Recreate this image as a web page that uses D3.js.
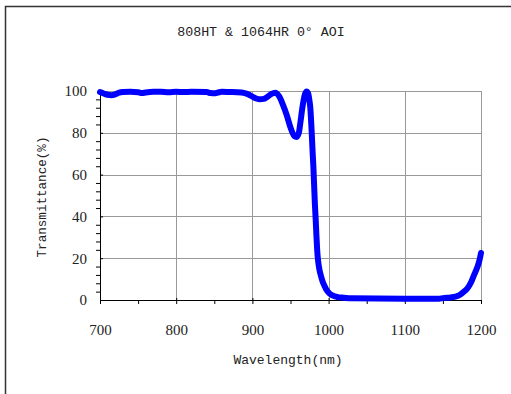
<!DOCTYPE html>
<html>
<head>
<meta charset="utf-8">
<script src="https://cdn.jsdelivr.net/npm/d3@7"></script>
<style>
  html, body { margin: 0; padding: 0; background: #fff; }
  svg { display: block; }
</style>
</head>
<body>
<svg id="chart" width="511" height="394"></svg>
<script>
var wavelength = [700, 705, 710, 715, 720, 725, 730, 740, 750, 755, 760, 770, 780, 790, 800,
    810, 820, 840, 845, 850, 855, 860, 870, 880, 890, 895, 900, 905, 910, 915, 920, 925, 930,
    935, 940, 945, 950, 955, 958, 961, 963, 966, 969, 971, 973, 975, 976, 977, 978, 979, 980,
    981, 982, 983, 984, 985, 986, 988, 990, 992, 995, 997, 1001, 1005, 1012, 1020, 1030,
    1100, 1145, 1150, 1160, 1170, 1176, 1182, 1187, 1191, 1195, 1198, 1200];
var transmittance = [99.5, 98.8, 98.2, 98.0, 98.4, 99.2, 99.5, 99.6, 99.4, 99.0, 99.3, 99.6, 99.6, 99.4, 99.6,
    99.5, 99.6, 99.5, 99.0, 98.9, 99.3, 99.6, 99.5, 99.4, 99.0, 98.3, 97.3, 96.4, 96.0, 96.2, 97.3, 98.6, 99.2,
    97.5, 93.5, 88.5, 82.5, 78.5, 78.0, 80, 85, 93, 98.5, 99.8, 99, 95, 92, 86, 79, 71, 64,
    55, 46, 39, 31, 24, 19.5, 14.5, 11.5, 9, 6.5, 5, 3.2, 2.2, 1.4, 1.1, 0.8,
    0.6, 0.6, 0.9, 1.2, 2.0, 3.5, 5.5, 8.5, 12, 15.5, 19, 22.5];
var xTicks = [700, 800, 900, 1000, 1100, 1200];
var yTicks = [0, 20, 40, 60, 80, 100];

var title = '808HT & 1064HR 0\u00b0 AOI',
    xLabel = 'Wavelength(nm)',
    yLabel = 'Transmittance(%)';

var margin = {top: 91, right: 30, bottom: 94, left: 100},
    width = 511 - margin.left - margin.right,
    height = 394 - margin.top - margin.bottom;

var svg = d3.select('#chart');

// outer chart frame, runs off the right and bottom edges
svg.append('rect')
    .attr('x', 5.5).attr('y', 6.5)
    .attr('width', 540).attr('height', 420)
    .attr('fill', 'none')
    .attr('stroke', '#333')
    .attr('stroke-width', 1.5);

svg.append('text')
    .attr('x', 261).attr('y', 36)
    .attr('text-anchor', 'middle')
    .attr('font-family', '"Liberation Mono", monospace')
    .attr('font-size', 13.3)
    .attr('fill', '#222')
    .text(title);

var x = d3.scaleLinear().domain([700, 1200]).range([0, width]);
var y = d3.scaleLinear().domain([0, 100]).range([height, 0]);

var g = svg.append('g')
    .attr('transform', 'translate(' + margin.left + ',' + margin.top + ')');

// grid
g.append('g').selectAll('line')
    .data(xTicks.slice(1))
    .join('line')
    .attr('x1', function(d) { return Math.round(x(d)) + 0.5; })
    .attr('x2', function(d) { return Math.round(x(d)) + 0.5; })
    .attr('y1', 0).attr('y2', height)
    .attr('stroke', '#999');
g.append('g').selectAll('line')
    .data(yTicks.slice(1))
    .join('line')
    .attr('y1', function(d) { return Math.round(y(d)) + 0.5; })
    .attr('y2', function(d) { return Math.round(y(d)) + 0.5; })
    .attr('x1', 0).attr('x2', width)
    .attr('stroke', '#999');

// axes
var xAxis = d3.axisBottom(x).tickValues(xTicks).tickFormat(d3.format('d')).tickSize(4).tickPadding(20);
var yAxis = d3.axisLeft(y).tickValues(yTicks).tickFormat(d3.format('d')).tickSize(5).tickPadding(8);

var gx = g.append('g')
    .attr('transform', 'translate(0,' + height + ')')
    .call(xAxis);
var gy = g.append('g').call(yAxis);

// minor ticks
gx.append('g').selectAll('line')
    .data(d3.range(750, 1200, 100))
    .join('line')
    .attr('x1', function(d) { return x(d) + 0.5; })
    .attr('x2', function(d) { return x(d) + 0.5; })
    .attr('y1', 0).attr('y2', 4)
    .attr('stroke', '#000');
gy.append('g').selectAll('line')
    .data(d3.range(0, 100, 4).filter(function(d) { return d % 20 !== 0; }))
    .join('line')
    .attr('y1', function(d) { return y(d) + 0.5; })
    .attr('y2', function(d) { return y(d) + 0.5; })
    .attr('x1', -4).attr('x2', 0)
    .attr('stroke', '#000');

[gx, gy].forEach(function(a) {
    a.attr('font-family', '"Liberation Serif", "Times New Roman", serif')
        .attr('font-size', 15);
    a.select('.domain').attr('stroke', '#000').attr('d', a === gx ? 'M0,0.5H' + width : 'M0.5,0V' + height);
    a.selectAll('.tick line').attr('stroke', '#000');
    a.selectAll('.tick text').attr('fill', '#222');
});
gx.selectAll('.tick line').attr('y1', -2);
gy.selectAll('.tick line').attr('x2', 3);

// plot area border on top and right
g.append('path')
    .attr('d', 'M0,0.5H' + (width + 0.5) + 'V' + height)
    .attr('fill', 'none')
    .attr('stroke', '#999');

// curve
var line = d3.line()
    .x(function(d, i) { return x(wavelength[i]); })
    .y(function(d) { return y(d); })
    .curve(d3.curveMonotoneX);

g.append('path')
    .datum(transmittance)
    .attr('d', line)
    .attr('fill', 'none')
    .attr('stroke', '#0000ff')
    .attr('stroke-width', 6)
    .attr('stroke-linejoin', 'round')
    .attr('stroke-linecap', 'round');

// axis titles
svg.append('text')
    .attr('x', 288).attr('y', 364)
    .attr('text-anchor', 'middle')
    .attr('font-family', '"Liberation Mono", monospace')
    .attr('font-size', 13)
    .attr('fill', '#222')
    .text(xLabel);

svg.append('text')
    .attr('transform', 'translate(46,197) rotate(-90)')
    .attr('text-anchor', 'middle')
    .attr('font-family', '"Liberation Mono", monospace')
    .attr('font-size', 12.6)
    .attr('fill', '#222')
    .text(yLabel);
</script>
</body>
</html>
